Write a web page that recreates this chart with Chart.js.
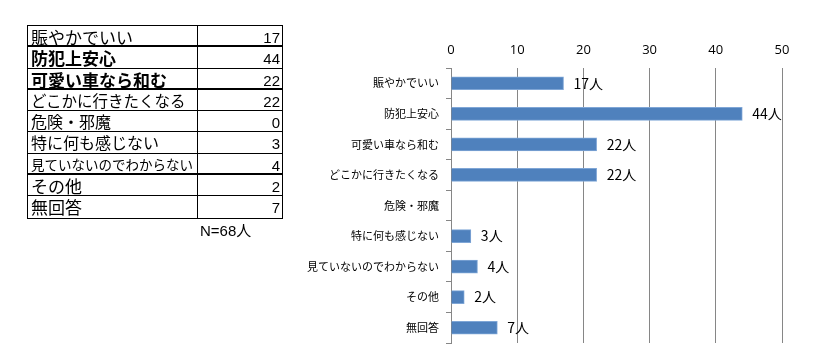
<!DOCTYPE html>
<html>
<head>
<meta charset="utf-8">
<script src="https://cdn.jsdelivr.net/npm/chart.js@4/dist/chart.umd.min.js"></script>
<style>
  html, body { margin: 0; padding: 0; background: #fff; }
  #wrap { position: relative; width: 816px; height: 358px; overflow: hidden; }
  #c { position: absolute; left: 0; top: 0; }
  #tbl { position: absolute; left: 27px; top: 25px; width: 256px; border: 1px solid #000; box-sizing: border-box; }
  .row { display: flex; height: 21.3px; box-sizing: border-box; border-bottom: 1px solid #000; }
  .row.thick { border-bottom: 2px solid #000; }
  .row:last-child { border-bottom: none; }
  .lab { width: 170px; border-right: 1px solid #000; box-sizing: border-box; padding-left: 3px; font-family: "Noto Sans CJK JP", sans-serif; font-weight: 400; line-height: 21px; white-space: nowrap; overflow: hidden; color: #000; }
  .val { flex: 1; text-align: right; padding-right: 2px; font-family: "Liberation Sans", Arial, sans-serif; font-size: 15px; line-height: 23px; color: #000; }
  #n { position: absolute; left: 200px; top: 219px; font-family: "Liberation Sans", "Noto Sans CJK JP", sans-serif; font-size: 15px; color: #000; }
</style>
</head>
<body>
<div id="wrap">
  <canvas id="c" width="816" height="358"></canvas>
  <div id="tbl"></div>
  <div id="n">N=68人</div>
</div>
<script>
const categories = ["賑やかでいい", "防犯上安心", "可愛い車なら和む", "どこかに行きたくなる", "危険・邪魔", "特に何も感じない", "見ていないのでわからない", "その他", "無回答"];
const counts = [17, 44, 22, 22, 0, 3, 4, 2, 7];
const unitLabel = "人";
const xTicks = [0, 10, 20, 30, 40, 50];

// table (styles only)
const rowFontSizes = [17, 17, 17, 15.5, 16, 16, 13.5, 17, 17];
const rowBold = [false, true, true, false, false, false, false, false, false];
const rowThick = [true, false, true, false, false, false, true, false, false];
const tbl = document.getElementById('tbl');
categories.forEach((c, i) => {
  const r = document.createElement('div');
  r.className = 'row' + (rowThick[i] ? ' thick' : '');
  const l = document.createElement('div');
  l.className = 'lab';
  l.textContent = c;
  l.style.fontSize = rowFontSizes[i] + 'px';
  if (rowBold[i]) l.style.fontWeight = '700';
  const v = document.createElement('div');
  v.className = 'val';
  v.textContent = counts[i];
  r.appendChild(l); r.appendChild(v);
  tbl.appendChild(r);
});

const labelPlugin = {
  id: 'valueLabels',
  afterDatasetsDraw(chart) {
    const ctx = chart.ctx;
    const meta = chart.getDatasetMeta(0);
    ctx.save();
    ctx.font = '14px "Noto Sans CJK JP", sans-serif';
    ctx.fillStyle = '#000';
    ctx.textBaseline = 'middle';
    ctx.textAlign = 'left';
    meta.data.forEach((el, i) => {
      const v = counts[i];
      if (!v) return;
      ctx.fillText(v + unitLabel, el.x + 10, el.y);
    });
    ctx.restore();
  }
};

new Chart(document.getElementById('c'), {
  type: 'bar',
  data: {
    labels: categories,
    datasets: [{
      data: counts,
      backgroundColor: '#4F81BD',
      borderColor: '#7FA6D6',
      borderWidth: 1,
      barThickness: 13
    }]
  },
  options: {
    indexAxis: 'y',
    responsive: false,
    devicePixelRatio: 1,
    animation: false,
    layout: { padding: { left: 290, right: 34, top: 0, bottom: 15 } },
    plugins: { legend: { display: false }, tooltip: { enabled: false } },
    scales: {
      x: {
        position: 'top',
        min: 0, max: 50,
        afterBuildTicks(scale) { scale.ticks = xTicks.map(v => ({ value: v })); },
        afterFit(scale) { scale.height = 68; },
        ticks: { font: { size: 13, family: '"Open Sans", "Liberation Sans", sans-serif' }, color: '#000', padding: 10 },
        grid: { color: '#868686', drawTicks: false, lineWidth: 1 },
        border: { display: false }
      },
      y: {
        afterFit(scale) { scale.width = 161; },
        ticks: { font: { size: 11, family: '"Noto Sans CJK JP", sans-serif' }, color: '#000', padding: 7 },
        grid: { drawOnChartArea: false, offset: true, tickLength: 5, color: '#868686' },
        border: { display: true, color: '#868686' }
      }
    }
  },
  plugins: [labelPlugin]
});
</script>
</body>
</html>
